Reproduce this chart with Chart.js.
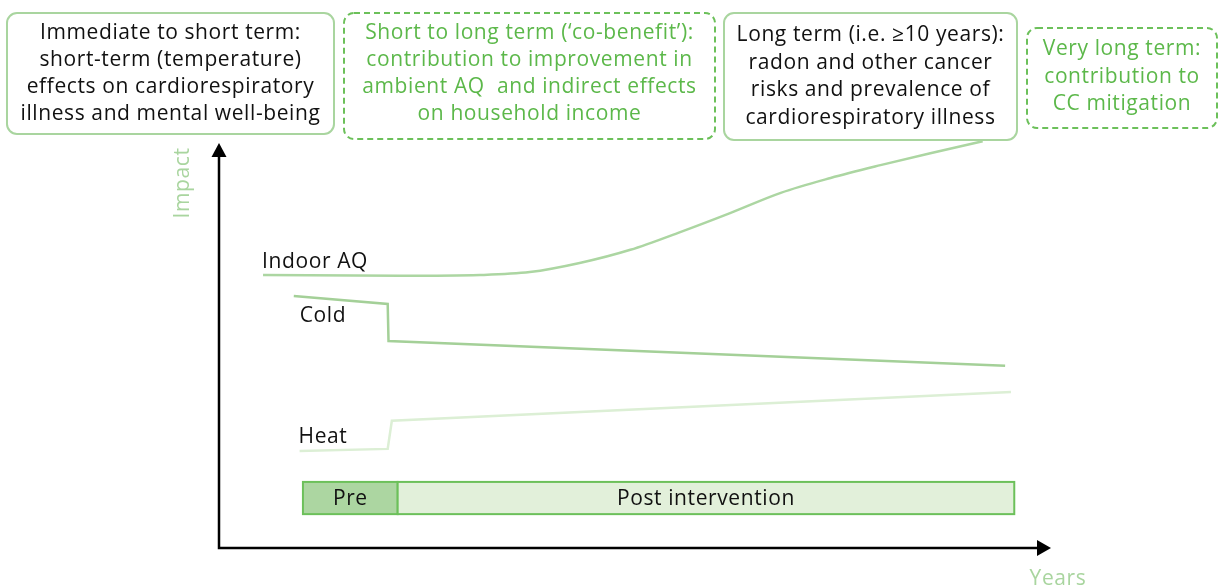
<!DOCTYPE html>
<html>
<head>
<meta charset="utf-8">
<script src="https://cdn.jsdelivr.net/npm/chart.js@4.4.1/dist/chart.umd.min.js"></script>
<style>
  html, body { margin: 0; padding: 0; background: #fff; }
  #wrap { width: 1222px; height: 588px; }
</style>
</head>
<body>
<div id="wrap"><canvas id="impactChart" width="1222" height="588"></canvas></div>
<script>
// series (x = years axis 0-100, y = impact 0-100)
const indoorYears = [5.3, 21.8, 31.4, 37.4, 43.4, 49.5, 55.5, 61.5, 67.6, 73.6, 79.6, 85.6, 91.9];
const indoorImpact = [66.1, 65.9, 66.1, 66.8, 69.0, 72.2, 76.5, 81.1, 86.0, 89.6, 92.7, 95.6, 98.5];

const coldYears = [9.0, 20.3, 20.4, 94.6];
const coldImpact = [61.0, 59.1, 50.1, 44.1];

const heatYears = [9.7, 20.3, 20.8, 95.3];
const heatImpact = [23.5, 24.0, 30.8, 37.8];

const seriesNames = ['Indoor AQ', 'Cold', 'Heat'];

const phaseNames = ['Pre', 'Post intervention'];
const phaseStart = [10.1, 21.5];
const phaseEnd = [21.5, 95.7];

// the four text boxes above the plot
const boxTexts = [
    ['Immediate to short term:', 'short-term (temperature)', 'effects on cardiorespiratory', 'illness and mental well-being'],
    ['Short to long term (\u2018co-benefit\u2019):', 'contribution to improvement in', 'ambient AQ  and indirect effects', 'on household income'],
    ['Long term (i.e. \u226510 years):', 'radon and other cancer', 'risks and prevalence of', 'cardiorespiratory illness'],
    ['Very long term:', 'contribution to', 'CC mitigation']
];

const FONT = '"Open Sans", "Noto Sans", sans-serif';
const LIGHT = '#a9d59f';
const MID = '#6cc05a';

function pts(xs, ys) {
    return xs.map((x, i) => ({ x: x, y: ys[i] }));
}

function setFont(ctx, size) {
    ctx.font = size + 'px ' + FONT;
    try { ctx.letterSpacing = '0.6px'; } catch (e) {}
}

// Pre / Post intervention band
const phasePlugin = {
    id: 'phaseBand',
    beforeDatasetsDraw(chart) {
        const ctx = chart.ctx;
        const xs = chart.scales.x, ys = chart.scales.y;
        const top = ys.getPixelForValue(16.0);
        const bottom = ys.getPixelForValue(8.2);
        ctx.save();
        phaseNames.forEach((name, i) => {
            const l = xs.getPixelForValue(phaseStart[i]);
            const r = xs.getPixelForValue(phaseEnd[i]);
            ctx.fillStyle = i === 0 ? '#acd6a1' : '#e2f0da';
            ctx.fillRect(l, top, r - l, bottom - top);
            ctx.strokeStyle = MID;
            ctx.lineWidth = 2;
            ctx.strokeRect(l, top, r - l, bottom - top);
            setFont(ctx, 21);
            ctx.fillStyle = '#111';
            ctx.textAlign = 'center';
            ctx.textBaseline = 'middle';
            ctx.fillText(name, (l + r) / 2, (top + bottom) / 2 + 1);
        });
        ctx.restore();
    }
};

// axes arrows, axis titles, series labels and the text boxes
const decorPlugin = {
    id: 'decor',
    afterDraw(chart) {
        const ctx = chart.ctx;
        const a = chart.chartArea;
        const ox = a.left, oy = a.bottom;
        ctx.save();

        // axes
        ctx.strokeStyle = '#000';
        ctx.fillStyle = '#000';
        ctx.lineWidth = 2.5;
        ctx.beginPath();
        ctx.moveTo(ox, 155);
        ctx.lineTo(ox, oy);
        ctx.lineTo(a.right - 12, oy);
        ctx.stroke();
        ctx.beginPath();
        ctx.moveTo(ox, 143);
        ctx.lineTo(ox - 7.5, 157);
        ctx.lineTo(ox + 7.5, 157);
        ctx.closePath();
        ctx.fill();
        ctx.beginPath();
        ctx.moveTo(a.right + 1, oy);
        ctx.lineTo(a.right - 13, oy - 8);
        ctx.lineTo(a.right - 13, oy + 8);
        ctx.closePath();
        ctx.fill();

        // axis titles
        setFont(ctx, 21);
        ctx.fillStyle = LIGHT;
        ctx.textAlign = 'center';
        ctx.textBaseline = 'middle';
        ctx.save();
        ctx.translate(183, 183);
        ctx.rotate(-Math.PI / 2);
        ctx.fillText('Impact', 0, 0);
        ctx.restore();
        ctx.textBaseline = 'alphabetic';
        ctx.fillText('Years', 1058, 585);

        // series labels next to the start of each line
        const offsets = [[-1, -13], [6, 20], [-1, -14]];
        ctx.fillStyle = '#111';
        ctx.textAlign = 'left';
        ctx.textBaseline = 'middle';
        chart.data.datasets.forEach((ds, i) => {
            const p = ds.data[0];
            const px = chart.scales.x.getPixelForValue(p.x);
            const py = chart.scales.y.getPixelForValue(p.y);
            ctx.fillText(seriesNames[i], px + offsets[i][0], py + offsets[i][1]);
        });

        // text boxes
        const boxes = [
            { x: 7, y: 13, w: 327, h: 121, dashed: false, base: 39, step: 27 },
            { x: 344, y: 13, w: 371, h: 126, dashed: true, base: 39, step: 27 },
            { x: 724, y: 13, w: 293, h: 127, dashed: false, base: 41, step: 27.5 },
            { x: 1027, y: 28, w: 190, h: 100, dashed: true, base: 55, step: 27.5 }
        ];
        boxes.forEach((b, i) => {
            ctx.save();
            ctx.lineWidth = 2;
            ctx.strokeStyle = b.dashed ? MID : LIGHT;
            ctx.setLineDash(b.dashed ? [6, 4] : []);
            ctx.fillStyle = '#fff';
            ctx.beginPath();
            ctx.roundRect(b.x, b.y, b.w, b.h, 10);
            ctx.fill();
            ctx.stroke();
            ctx.restore();
            setFont(ctx, 21);
            ctx.fillStyle = b.dashed ? '#5cb84a' : '#111';
            ctx.textAlign = 'center';
            ctx.textBaseline = 'alphabetic';
            boxTexts[i].forEach((line, j) => {
                ctx.fillText(line, b.x + b.w / 2, b.base + j * b.step);
            });
        });
        ctx.restore();
    }
};

const ctx = document.getElementById('impactChart').getContext('2d');
new Chart(ctx, {
    type: 'line',
    data: {
        datasets: [
            { label: seriesNames[0], data: pts(indoorYears, indoorImpact), borderColor: '#acd6a2',
              borderWidth: 2.5, pointRadius: 0, cubicInterpolationMode: 'monotone', clip: false },
            { label: seriesNames[1], data: pts(coldYears, coldImpact), borderColor: '#a4d098',
              borderWidth: 2.5, pointRadius: 0, tension: 0, clip: false },
            { label: seriesNames[2], data: pts(heatYears, heatImpact), borderColor: '#dcefd5',
              borderWidth: 2.5, pointRadius: 0, tension: 0, clip: false }
        ]
    },
    options: {
        responsive: false,
        animation: false,
        events: [],
        layout: { padding: { left: 219, right: 172, top: 135, bottom: 40 } },
        scales: {
            x: { type: 'linear', min: 0, max: 100, display: false },
            y: { type: 'linear', min: 0, max: 100, display: false }
        },
        plugins: { legend: { display: false }, tooltip: { enabled: false } }
    },
    plugins: [phasePlugin, decorPlugin]
});
</script>
</body>
</html>
